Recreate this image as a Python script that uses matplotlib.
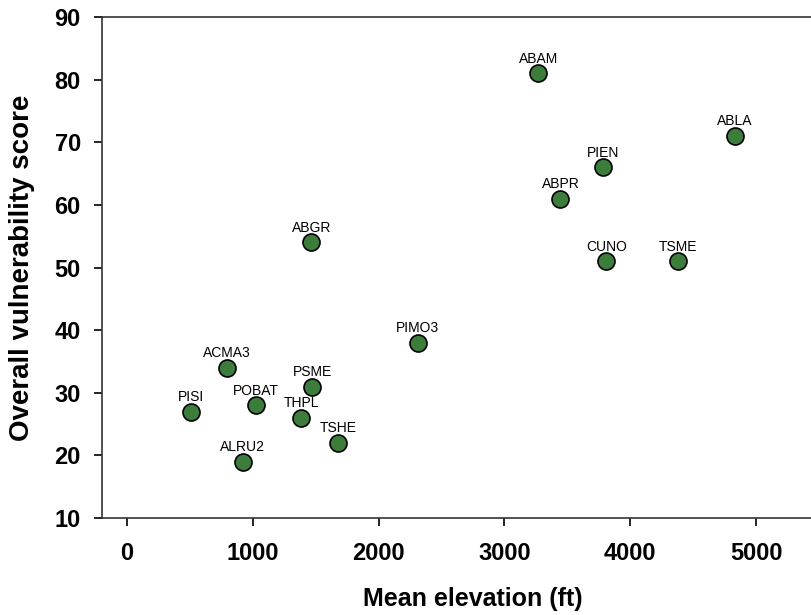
import matplotlib
matplotlib.use("Agg")
from matplotlib import pyplot as plt

plt.rcParams['font.family'] = ['Liberation Sans', 'DejaVu Sans']

species = ["ABAM", "ABLA", "PIEN", "ABPR", "CUNO", "TSME", "ABGR", "PIMO3",
           "ACMA3", "PSME", "POBAT", "PISI", "THPL", "TSHE", "ALRU2"]
elevation = [3270, 4830, 3785, 3445, 3810, 4380, 1465, 2310,
             795, 1475, 1025, 510, 1385, 1680, 920]
score = [81, 71, 66, 61, 51, 51, 54, 38, 34, 31, 28, 27, 26, 22, 19]

fig = plt.figure(figsize=(8.11, 6.15), dpi=100)
ax = fig.add_axes([0.1254, 0.1577, 0.8845, 0.8146])

ax.scatter(elevation, score, s=150, c='#3d7d3b', edgecolors='black',
           linewidths=1.2, zorder=3)
for name, x, y in zip(species, elevation, score):
    ax.annotate(name, (x, y), xytext=(0, 10.5), textcoords='offset points',
                ha='center', va='center', fontsize=10)

ax.set_xlim(-200, 5500)
ax.set_ylim(10, 90)
ax.set_xticks([0, 1000, 2000, 3000, 4000, 5000])
ax.set_yticks([10, 20, 30, 40, 50, 60, 70, 80, 90])

for s in ax.spines.values():
    s.set_linewidth(1.2)
    s.set_color('#333333')
ax.tick_params(direction='out', length=6, width=1.2, labelsize=17)
ax.tick_params(axis='x', pad=11)
ax.tick_params(axis='y', pad=9)
for lbl in ax.get_xticklabels() + ax.get_yticklabels():
    lbl.set_fontweight('bold')

ax.set_xlabel("Mean elevation (ft)", fontsize=18, fontweight='bold')
ax.set_ylabel("Overall vulnerability score", fontsize=20, fontweight='bold')
ax.xaxis.set_label_coords(0.518, -0.137)
ax.yaxis.set_label_coords(-0.093, 0.5)

fig.savefig("out.png", dpi=100)
